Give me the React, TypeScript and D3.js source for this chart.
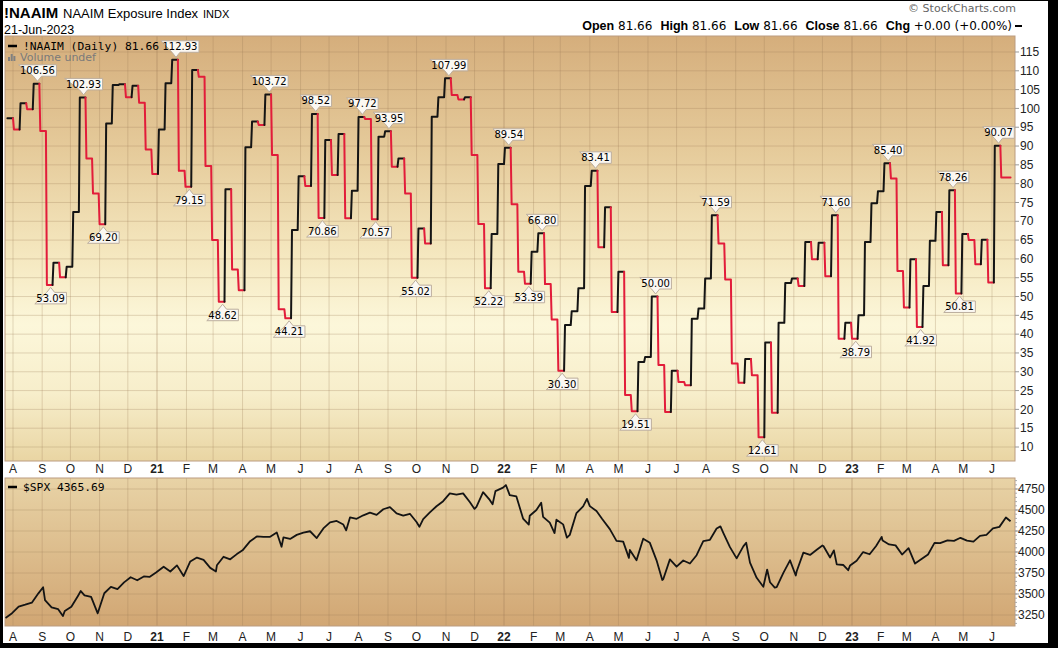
import React from 'react';
import * as d3 from 'd3';

// ---------- DATA ----------
// NAAIM Exposure Index weekly readings, each shown for one week starting at naaimStart
const naaimStart = new Date(2020, 6, 26);
const naaimEnd = new Date(2023, 5, 21);
const naaimValues = [
  97.4, 94.4, 101.4, 99.8, 106.56, 94.0, 53.09, 59.0, 55.1, 57.9, 72.5, 102.93, 86.7, 77.4, 69.20,
  96.0, 106.2, 106.4, 103.0, 106.0, 101.5, 89.1, 82.6, 94.4, 106.7, 112.93, 83.4, 79.15, 110.2, 108.4,
  84.7, 65.0, 48.62, 78.5, 57.2, 51.7, 89.7, 96.5, 95.6, 103.72, 87.6, 46.6, 44.21, 67.7, 82.0, 79.4,
  98.52, 70.86, 91.6, 82.3, 93.2, 70.8, 78.1, 97.72, 97.2, 70.57, 92.5, 93.95, 84.5, 86.7, 77.4, 55.02,
  68.1, 64.1, 97.8, 103.0, 107.99, 103.6, 102.4, 103.0, 87.6, 69.3, 52.22, 66.6, 85.2, 89.54, 74.5,
  56.6, 53.39, 61.9, 66.80, 53.3, 43.9, 30.30, 42.4, 46.1, 52.2, 79.4, 83.41, 63.1, 73.7, 45.9, 56.6,
  23.8, 19.51, 32.6, 33.9, 50.00, 31.8, 19.3, 30.3, 27.3, 26.4, 44.1, 46.8, 54.8, 71.59, 64.1, 54.5,
  32.2, 27.1, 33.4, 29.1, 12.61, 37.8, 19.1, 43.0, 53.6, 54.8, 52.8, 64.5, 59.9, 64.3, 55.4, 71.60,
  38.8, 43.0, 38.79, 45.0, 64.5, 74.8, 78.0, 85.40, 81.4, 56.8, 47.1, 59.9, 41.92, 52.8, 64.8, 72.5,
  58.3, 78.26, 50.81, 66.6, 65.0, 58.6, 65.1, 53.7, 90.07, 81.66,
];
const peakLabels = [106.56, 102.93, 112.93, 103.72, 98.52, 97.72, 93.95, 107.99, 89.54, 66.80, 83.41, 50.00, 71.59, 71.60, 85.40, 78.26, 90.07];
const troughLabels = [53.09, 69.20, 79.15, 48.62, 44.21, 70.86, 70.57, 55.02, 52.22, 53.39, 30.30, 19.51, 12.61, 38.79, 41.92, 50.81];

// S&P 500 closes
const spxDates = [
  '2020-07-24','2020-07-31','2020-08-07','2020-08-14','2020-08-21','2020-08-28','2020-09-02','2020-09-04','2020-09-11','2020-09-18',
  '2020-09-23','2020-09-25','2020-10-02','2020-10-09','2020-10-12','2020-10-16','2020-10-23','2020-10-30','2020-11-06','2020-11-13',
  '2020-11-20','2020-11-27','2020-12-04','2020-12-11','2020-12-18','2020-12-24','2020-12-31','2021-01-08','2021-01-15','2021-01-22',
  '2021-01-29','2021-02-05','2021-02-12','2021-02-19','2021-02-26','2021-03-04','2021-03-05','2021-03-12','2021-03-19','2021-03-26',
  '2021-04-01','2021-04-09','2021-04-16','2021-04-23','2021-04-30','2021-05-07','2021-05-12','2021-05-14','2021-05-21','2021-05-28',
  '2021-06-04','2021-06-11','2021-06-18','2021-06-25','2021-07-02','2021-07-09','2021-07-16','2021-07-19','2021-07-23','2021-07-30',
  '2021-08-06','2021-08-13','2021-08-20','2021-08-27','2021-09-03','2021-09-10','2021-09-17','2021-09-24','2021-10-01','2021-10-04',
  '2021-10-08','2021-10-15','2021-10-22','2021-10-29','2021-11-05','2021-11-12','2021-11-19','2021-11-26','2021-12-01','2021-12-03',
  '2021-12-10','2021-12-17','2021-12-20','2021-12-23','2021-12-31','2022-01-03','2022-01-07','2022-01-14','2022-01-21','2022-01-27',
  '2022-01-28','2022-02-04','2022-02-09','2022-02-11','2022-02-18','2022-02-23','2022-02-25','2022-03-04','2022-03-08','2022-03-11',
  '2022-03-18','2022-03-25','2022-03-29','2022-04-01','2022-04-08','2022-04-14','2022-04-22','2022-04-29','2022-05-06','2022-05-12',
  '2022-05-13','2022-05-20','2022-05-27','2022-06-03','2022-06-10','2022-06-16','2022-06-17','2022-06-24','2022-07-01','2022-07-08',
  '2022-07-15','2022-07-22','2022-07-29','2022-08-05','2022-08-12','2022-08-16','2022-08-19','2022-08-26','2022-09-02','2022-09-09',
  '2022-09-12','2022-09-16','2022-09-23','2022-09-30','2022-10-04','2022-10-07','2022-10-12','2022-10-14','2022-10-21','2022-10-28',
  '2022-11-03','2022-11-04','2022-11-11','2022-11-18','2022-11-25','2022-12-01','2022-12-02','2022-12-09','2022-12-13','2022-12-16',
  '2022-12-23','2022-12-28','2022-12-30','2023-01-06','2023-01-13','2023-01-20','2023-01-27','2023-02-02','2023-02-03','2023-02-10',
  '2023-02-17','2023-02-24','2023-03-03','2023-03-10','2023-03-17','2023-03-24','2023-03-31','2023-04-06','2023-04-14','2023-04-21',
  '2023-04-28','2023-05-05','2023-05-12','2023-05-19','2023-05-26','2023-06-02','2023-06-09','2023-06-16','2023-06-21',
];
const spxValues = [
  3215, 3271, 3351, 3373, 3397, 3508, 3580, 3426, 3341, 3319,
  3237, 3298, 3348, 3477, 3535, 3483, 3465, 3270, 3509, 3585,
  3558, 3638, 3699, 3663, 3709, 3703, 3756, 3825, 3768, 3841,
  3714, 3887, 3934, 3907, 3811, 3768, 3842, 3943, 3913, 3975,
  4020, 4129, 4185, 4180, 4181, 4233, 4063, 4174, 4156, 4204,
  4230, 4247, 4166, 4281, 4352, 4370, 4327, 4258, 4412, 4395,
  4437, 4468, 4442, 4509, 4535, 4459, 4433, 4455, 4357, 4300,
  4391, 4471, 4545, 4605, 4697, 4682, 4698, 4595, 4513, 4538,
  4712, 4620, 4568, 4725, 4766, 4797, 4677, 4662, 4398, 4326,
  4432, 4500, 4587, 4419, 4349, 4226, 4385, 4329, 4171, 4204,
  4463, 4543, 4632, 4546, 4488, 4392, 4272, 4132, 4123, 3930,
  4024, 3901, 4158, 4109, 3901, 3667, 3675, 3912, 3825, 3899,
  3863, 3962, 4130, 4145, 4280, 4305, 4228, 4058, 3924, 4067,
  4110, 3873, 3693, 3586, 3791, 3640, 3577, 3583, 3752, 3901,
  3720, 3771, 3993, 3965, 4026, 4077, 4072, 3934, 4020, 3852,
  3845, 3783, 3840, 3895, 3999, 3973, 4071, 4180, 4136, 4090,
  4079, 3970, 4046, 3862, 3917, 3971, 4109, 4105, 4138, 4133,
  4169, 4136, 4124, 4192, 4205, 4282, 4299, 4410, 4365.69,
];

const naaimTicks = [10, 15, 20, 25, 30, 35, 40, 45, 50, 55, 60, 65, 70, 75, 80, 85, 90, 95, 100, 105, 110, 115];
const spxTicks = [3250, 3500, 3750, 4000, 4250, 4500, 4750];
const monthLabels = ['A','S','O','N','D','21','F','M','A','M','J','J','A','S','O','N','D','22','F','M','A','M','J','J','A','S','O','N','D','23','F','M','A','M','J'];

// ---------- STYLE ----------
const SANS = "'Liberation Sans', Arial, sans-serif";
const VERD = "'DejaVu Sans', Verdana, sans-serif";
const MONO = "'DejaVu Sans Mono', monospace";
const RED = '#e21c3a';
const BLK = '#141414';
const GRID = '#9c7b55';

export default function App() {
  const P = { l: 5, r: 1015, t: 36, b: 461 };
  const Q = { l: 5, r: 1015, t: 478, b: 626 };

  const x = d3.scaleTime()
    .domain([new Date(2020, 7, 1), new Date(2021, 0, 1), new Date(2022, 0, 1), new Date(2023, 0, 1), new Date(2023, 5, 1)])
    .range([13, 157, 504, 852, 992]);
  const yTop = d3.scaleLinear().domain([6.28, 119.25]).range([P.b, P.t]);
  const yBot = d3.scaleLinear().domain([3119, 4881]).range([Q.b, Q.t]);

  const months = d3.timeMonth.range(new Date(2020, 7, 1), new Date(2023, 6, 1));

  // NAAIM step points
  const weeks = naaimValues.map((v, i) => ({ start: d3.timeDay.offset(naaimStart, 7 * i), v }));
  const pts: { t: Date; v: number }[] = [];
  weeks.forEach((w, i) => {
    const end = i < weeks.length - 1 ? d3.timeDay.offset(w.start, 6) : naaimEnd;
    pts.push({ t: w.start, v: w.v });
    pts.push({ t: end, v: w.v });
  });
  let dir = 1;
  const runs: { color: string; pts: { t: Date; v: number }[] }[] = [];
  for (let k = 0; k < pts.length - 1; k++) {
    const a = pts[k], b = pts[k + 1];
    if (b.v > a.v) dir = 1; else if (b.v < a.v) dir = -1;
    const color = dir > 0 ? BLK : RED;
    const last = runs[runs.length - 1];
    if (last && last.color === color) last.pts.push(b);
    else runs.push({ color, pts: [a, b] });
  }
  const lineTop = d3.line<{ t: Date; v: number }>().x(d => x(d.t)).y(d => yTop(d.v));

  const parse = d3.timeParse('%Y-%m-%d');
  const spx = spxDates.map((d, i) => ({ t: parse(d) as Date, v: spxValues[i] }));
  const lineBot = d3.line<{ t: Date; v: number }>().x(d => x(d.t)).y(d => yBot(d.v));

  const legendEnd = 160;
  const fsA = 10;
  const annots = [
    ...peakLabels.map(v => ({ v, peak: true })),
    ...troughLabels.map(v => ({ v, peak: false })),
  ].map(a => {
    const idx = naaimValues.indexOf(a.v);
    const px = x(d3.timeDay.offset(weeks[idx].start, 4));
    const py = yTop(a.v);
    const txt = a.v.toFixed(2);
    const digits = txt.replace('.', '').length;
    const w = (digits * 0.636 + 0.318) * fsA + 3;
    // keep boxes near the top-left legend clear of its text
    const shift = a.peak && py - 19 < 52 ? Math.max(0, legendEnd + 1 - (px - w / 2)) : 0;
    return { ...a, px, py, txt, w, bx: px + shift };
  });

  const spxMinor = d3.range(3150, 4881, 50);

  return (
    <svg width={1058} height={648} style={{ position: 'absolute', left: 0, top: 0, display: 'block' }}>
      <defs>
        <linearGradient id="gTop" x1="0" y1="0" x2="0" y2="1">
          <stop offset="0" stopColor="#d5ae7c" />
          <stop offset="0.28" stopColor="#e6cc9c" />
          <stop offset="0.52" stopColor="#f5e8c0" />
          <stop offset="0.68" stopColor="#fcf7da" />
          <stop offset="0.84" stopColor="#f7eecb" />
          <stop offset="1" stopColor="#e9d5a3" />
        </linearGradient>
        <linearGradient id="gBot" x1="0" y1="0" x2="0" y2="1">
          <stop offset="0" stopColor="#e8d3a6" />
          <stop offset="1" stopColor="#d1a673" />
        </linearGradient>
        <clipPath id="cTop"><rect x={P.l} y={P.t} width={P.r - P.l} height={P.b - P.t} /></clipPath>
        <clipPath id="cBot"><rect x={Q.l} y={Q.t} width={Q.r - Q.l} height={Q.b - Q.t} /></clipPath>
      </defs>

      <rect x={0} y={0} width={1058} height={648} fill="#000" />
      <rect x={3} y={1} width={1045} height={642} fill="#fff" />

      {/* Header */}
      <text x={4} y={18} fontFamily={SANS} fontWeight="bold" fontSize={15} fill="#000">!NAAIM</text>
      <text x={63} y={18} fontFamily={SANS} fontSize={13} fill="#000">NAAIM Exposure Index</text>
      <text x={203} y={18} fontFamily={SANS} fontSize={11} fill="#000">INDX</text>
      <text x={4} y={34} fontFamily={SANS} fontSize={12.5} fill="#000">21-Jun-2023</text>
      <text x={1016} y={12} textAnchor="end" fontFamily={VERD} fontSize={11} fill="#666">© StockCharts.com</text>
      <text x={1012} y={30} textAnchor="end" fontSize={12} fill="#000">
        <tspan fontFamily={SANS} fontWeight="bold" fontSize={12.5}>Open</tspan>
        <tspan fontFamily={VERD}> 81.66</tspan>
        <tspan dx={8} fontFamily={SANS} fontWeight="bold" fontSize={12.5}>High</tspan>
        <tspan fontFamily={VERD}> 81.66</tspan>
        <tspan dx={8} fontFamily={SANS} fontWeight="bold" fontSize={12.5}>Low</tspan>
        <tspan fontFamily={VERD}> 81.66</tspan>
        <tspan dx={8} fontFamily={SANS} fontWeight="bold" fontSize={12.5}>Close</tspan>
        <tspan fontFamily={VERD}> 81.66</tspan>
        <tspan dx={8} fontFamily={SANS} fontWeight="bold" fontSize={12.5}>Chg</tspan>
        <tspan fontFamily={VERD}> +0.00 (+0.00%)</tspan>
      </text>
      <line x1={1015} x2={1022} y1={26} y2={26} stroke="#000" strokeWidth={2} />

      {/* Top panel */}
      <rect x={P.l} y={P.t} width={P.r - P.l} height={P.b - P.t} fill="url(#gTop)" />
      {naaimTicks.map(t => (
        <line key={'hg' + t} x1={P.l} x2={P.r} y1={yTop(t)} y2={yTop(t)} stroke={GRID} strokeOpacity={0.28} />
      ))}
      {months.map((m, i) => (
        <line key={'vg' + i} x1={x(m)} x2={x(m)} y1={P.t} y2={P.b} stroke={GRID}
          strokeOpacity={m.getMonth() === 0 ? 0.45 : 0.28} />
      ))}
      <rect x={P.l} y={P.t} width={P.r - P.l} height={P.b - P.t} fill="none" stroke="#bb9c80" />

      <g>
        <rect x={8} y={57} width={2} height={4} fill="#808080" />
        <rect x={10.7} y={54} width={2} height={7} fill="#808080" />
        <rect x={13.4} y={56} width={2} height={5} fill="#808080" />
        <text x={20} y={61} fontFamily={VERD} fontSize={11} fill="#7a7a7a">Volume undef</text>
      </g>

      <g clipPath="url(#cTop)" fill="none" strokeWidth={2} strokeLinejoin="round" strokeLinecap="round">
        {runs.map((r, i) => (
          <path key={'r' + i} d={lineTop(r.pts) || ''} stroke={r.color} />
        ))}
      </g>

      {annots.map((a, i) => {
        const hw = a.w / 2;
        const pxp = Math.min(Math.max(a.px, a.bx - hw + 5), a.bx + hw - 5);
        let d: string, ty: number;
        if (a.peak) {
          const top = a.py - 19, bot = a.py - 7.5, tip = a.py - 2.5;
          d = `M${a.bx - hw},${top}H${a.bx + hw}V${bot}H${pxp + 4}L${pxp},${tip}L${pxp - 4},${bot}Z`;
          ty = bot - 2;
        } else {
          const top = a.py + 7.5, bot = a.py + 19, tip = a.py + 2.5;
          d = `M${a.bx - hw},${bot}H${a.bx + hw}V${top}H${pxp + 4}L${pxp},${tip}L${pxp - 4},${top}Z`;
          ty = bot - 2;
        }
        return (
          <g key={'a' + i}>
            <path d={d} fill="#fbf8f2" stroke="#bcae9e" strokeWidth={1} />
            <text x={a.bx} y={ty} textAnchor="middle" fontFamily={VERD} fontSize={fsA} fill="#000">{a.txt}</text>
          </g>
        );
      })}

      <line x1={8} x2={17} y1={46} y2={46} stroke="#000" strokeWidth={2.5} />
      <text x={23} y={50} fontFamily={MONO} fontSize={11.3} fill="#000">!NAAIM (Daily) 81.66</text>

      {naaimTicks.map(t => (
        <g key={'yl' + t}>
          <line x1={P.r} x2={P.r + 4} y1={yTop(t)} y2={yTop(t)} stroke="#999" />
          <text x={1020} y={yTop(t)} dy="0.35em" fontFamily={SANS} fontSize={12} fill="#222">{t}</text>
        </g>
      ))}
      {months.map((m, i) => (
        <text key={'xl' + i} x={x(m)} y={473} textAnchor="middle" fontFamily={SANS} fontSize={12}
          fontWeight={m.getMonth() === 0 ? 'bold' : 'normal'} fill="#222">{monthLabels[i]}</text>
      ))}

      {/* Bottom panel */}
      <rect x={Q.l} y={Q.t} width={Q.r - Q.l} height={Q.b - Q.t} fill="url(#gBot)" />
      {spxTicks.map(t => (
        <line key={'bh' + t} x1={Q.l} x2={Q.r} y1={yBot(t)} y2={yBot(t)} stroke={GRID} strokeOpacity={0.28} />
      ))}
      {months.map((m, i) => (
        <line key={'bv' + i} x1={x(m)} x2={x(m)} y1={Q.t} y2={Q.b} stroke={GRID}
          strokeOpacity={m.getMonth() === 0 ? 0.45 : 0.28} />
      ))}
      <rect x={Q.l} y={Q.t} width={Q.r - Q.l} height={Q.b - Q.t} fill="none" stroke="#bb9c80" />
      <g clipPath="url(#cBot)">
        <path d={lineBot(spx) || ''} fill="none" stroke={BLK} strokeWidth={1.8} strokeLinejoin="round" />
      </g>
      <line x1={8} x2={17} y1={487} y2={487} stroke="#000" strokeWidth={2.5} />
      <text x={23} y={491} fontFamily={MONO} fontSize={11.3} fill="#000">$SPX 4365.69</text>

      {spxMinor.map(t => (
        <line key={'bm' + t} x1={Q.r} x2={Q.r + 2} y1={yBot(t)} y2={yBot(t)} stroke="#aaa" />
      ))}
      {spxTicks.map(t => (
        <g key={'byl' + t}>
          <line x1={Q.r} x2={Q.r + 4} y1={yBot(t)} y2={yBot(t)} stroke="#999" />
          <text x={1018} y={yBot(t)} dy="0.35em" fontFamily={SANS} fontSize={12} fill="#222">{t}</text>
        </g>
      ))}
      {months.map((m, i) => (
        <text key={'bxl' + i} x={x(m)} y={641} textAnchor="middle" fontFamily={SANS} fontSize={12}
          fontWeight={m.getMonth() === 0 ? 'bold' : 'normal'} fill="#222">{monthLabels[i]}</text>
      ))}
    </svg>
  );
}
